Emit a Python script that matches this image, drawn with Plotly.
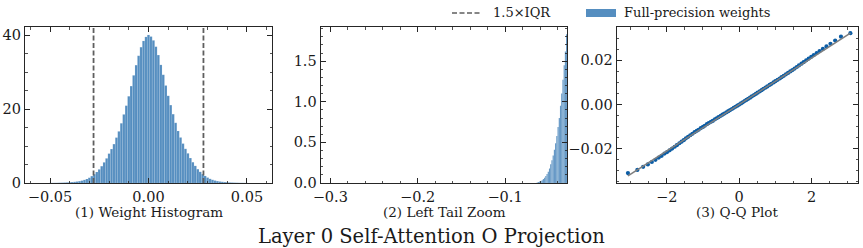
import plotly.graph_objects as go

# ---------------- data ----------------
hist_centers = [-0.05, -0.04875, -0.0475, -0.04625, -0.045, -0.04375, -0.0425, -0.04125, -0.04, -0.03875,
                -0.0375, -0.03625, -0.035, -0.03375, -0.0325, -0.03125, -0.03, -0.02875, -0.0275, -0.02625,
                -0.025, -0.02375, -0.0225, -0.02125, -0.02, -0.01875, -0.0175, -0.01625, -0.015, -0.01375,
                -0.0125, -0.01125, -0.01, -0.00875, -0.0075, -0.00625, -0.005, -0.00375, -0.0025, -0.00125,
                0.0,
                0.00125, 0.0025, 0.00375, 0.005, 0.00625, 0.0075, 0.00875, 0.01, 0.01125, 0.0125,
                0.01375, 0.015, 0.01625, 0.0175, 0.01875, 0.02, 0.02125, 0.0225, 0.02375, 0.025,
                0.02625, 0.0275, 0.02875, 0.03, 0.03125, 0.0325, 0.03375, 0.035, 0.03625, 0.0375,
                0.03875, 0.04, 0.04125, 0.0425, 0.04375, 0.045, 0.04625, 0.0475, 0.04875, 0.05]
hist_density = [0.02, 0.03, 0.04, 0.05, 0.07, 0.09, 0.12, 0.16, 0.20, 0.25,
                0.31, 0.40, 0.50, 0.64, 0.84, 1.08, 1.42, 1.86, 2.38, 2.97,
                3.68, 4.55, 5.58, 6.66, 7.95, 9.18, 10.52, 12.28, 13.96, 16.15,
                18.55, 20.92, 23.46, 26.21, 29.12, 31.88, 34.42, 36.74, 38.43, 39.52,
                40.05,
                39.61, 38.58, 36.87, 34.61, 31.95, 29.28, 26.37, 23.58, 21.07, 18.62,
                16.28, 14.07, 12.31, 10.66, 9.24, 8.02, 6.75, 5.62, 4.63, 3.74,
                3.02, 2.41, 1.91, 1.46, 1.12, 0.86, 0.66, 0.51, 0.40, 0.32,
                0.25, 0.20, 0.15, 0.12, 0.09, 0.07, 0.05, 0.04, 0.03, 0.02]
hist_bin_width = 0.00125

tail_centers = [-0.0631, -0.0617, -0.0603, -0.0589, -0.0575, -0.0561, -0.0547, -0.0533, -0.0519, -0.0505,
                -0.0491, -0.0477, -0.0463, -0.0449, -0.0435, -0.0421, -0.0407, -0.0393, -0.0379, -0.0365,
                -0.0351, -0.0337, -0.0323, -0.0309, -0.0295]
tail_density = [0.007, 0.011, 0.017, 0.025, 0.035, 0.048, 0.065, 0.085, 0.11, 0.14,
                0.18, 0.23, 0.28, 0.34, 0.41, 0.49, 0.58, 0.69, 0.80, 0.95,
                1.10, 1.27, 1.45, 1.62, 1.83]
tail_bin_width = 0.0014

iqr_bounds = [-0.0279, 0.0279]

qq_theoretical = [-3.07, -2.81, -2.65, -2.52, -2.41, -2.31, -2.22, -2.14, -2.06, -1.99,
                  -1.92, -1.85, -1.78, -1.72, -1.65, -1.59, -1.53, -1.47, -1.41, -1.35,
                  -1.29, -1.23, -1.17, -1.12, -1.06, -1.00, -0.95, -0.89, -0.84, -0.78,
                  -0.73, -0.67, -0.62, -0.57, -0.51, -0.46, -0.41, -0.35, -0.30, -0.25,
                  -0.20, -0.15, -0.10, -0.05, 0.00,
                  0.05, 0.10, 0.15, 0.20, 0.25, 0.30, 0.35, 0.41, 0.46, 0.51,
                  0.57, 0.62, 0.67, 0.73, 0.78, 0.84, 0.89, 0.95, 1.00, 1.06,
                  1.12, 1.17, 1.23, 1.29, 1.35, 1.41, 1.47, 1.53, 1.59, 1.65,
                  1.72, 1.78, 1.85, 1.92, 1.99, 2.06, 2.14, 2.22, 2.31, 2.41,
                  2.52, 2.65, 2.81, 3.07]
qq_sample = [-0.0310, -0.0296, -0.0282, -0.0271, -0.0260, -0.0250, -0.0240, -0.0232, -0.0222, -0.0215,
             -0.0207, -0.0199, -0.0191, -0.0184, -0.0175, -0.0168, -0.0161, -0.0153, -0.0146, -0.0139,
             -0.0132, -0.0125, -0.0119, -0.0114, -0.0107, -0.0101, -0.0096, -0.0089, -0.0084, -0.0078,
             -0.0074, -0.0067, -0.0062, -0.0057, -0.0051, -0.0046, -0.0041, -0.0035, -0.0030, -0.0025,
             -0.0020, -0.0015, -0.0010, -0.0005, 0.0000,
             0.0005, 0.0010, 0.0016, 0.0021, 0.0026, 0.0031, 0.0037, 0.0043, 0.0048, 0.0054,
             0.0060, 0.0065, 0.0071, 0.0077, 0.0082, 0.0089, 0.0094, 0.0100, 0.0106, 0.0112,
             0.0118, 0.0124, 0.0130, 0.0137, 0.0143, 0.0150, 0.0156, 0.0163, 0.0170, 0.0177,
             0.0185, 0.0192, 0.0200, 0.0208, 0.0216, 0.0224, 0.0233, 0.0242, 0.0252, 0.0263,
             0.0275, 0.0290, 0.0307, 0.0323]
qq_line_x = [-3.07, 3.07]
qq_line_y = [-0.0323, 0.0323]

panel_titles = ["(1) Weight Histogram", "(2) Left Tail Zoom", "(3) Q-Q Plot"]
main_title = "Layer 0 Self-Attention O Projection"
legend_labels = ["1.5\u00d7IQR", "Full-precision weights"]

# ---------------- styling ----------------
W, H = 863, 248
FONT = "DejaVu Serif"
BAR_COLOR = "#558ec0"
PT_COLOR = "#0c5da5"
DASH_COLOR = "#5f5f5f"


def px_x(p):
    return p / W


def px_y(p):
    return 1 - p / H


fig = go.Figure()

fig.add_trace(go.Bar(x=hist_centers, y=hist_density, width=hist_bin_width,
                     marker=dict(color=BAR_COLOR, line=dict(color="rgba(255,255,255,0.35)", width=0.3)),
                     xaxis="x", yaxis="y", showlegend=False))
fig.add_trace(go.Bar(x=tail_centers, y=tail_density, width=tail_bin_width,
                     marker=dict(color=BAR_COLOR, line=dict(color="rgba(255,255,255,0.35)", width=0.3)),
                     xaxis="x2", yaxis="y2", showlegend=False))
fig.add_trace(go.Scatter(x=qq_theoretical, y=qq_sample, mode="markers",
                         marker=dict(color=PT_COLOR, size=4.2, line=dict(width=0)),
                         xaxis="x3", yaxis="y3", showlegend=False))
fig.add_trace(go.Scatter(x=qq_line_x, y=qq_line_y, mode="lines",
                         line=dict(color="#7f7f7f", width=1.6),
                         xaxis="x3", yaxis="y3", showlegend=False))

for b in iqr_bounds:
    fig.add_shape(type="line", xref="x", yref="y domain", x0=b, x1=b, y0=0, y1=1,
                  line=dict(color=DASH_COLOR, width=1.8, dash="5px,2.5px"))

axis_common = dict(showline=True, linecolor="#262626", linewidth=1.1, mirror="allticks",
                   ticks="inside", ticklen=5, tickwidth=1, tickcolor="#262626",
                   showgrid=False, zeroline=False, automargin=False,
                   tickfont=dict(family=FONT, size=14.5, color="#1a1a1a"))


def ax(**kw):
    d = dict(axis_common)
    d.update(kw)
    return d


ytop, ybot = px_y(27), px_y(183)
dom1 = [px_x(25), px_x(272)]
dom2 = [px_x(320.7), px_x(567.3)]
dom3 = [px_x(616.7), px_x(858)]

minor_style = dict(ticks="inside", ticklen=2.5, tickwidth=0.8, tickcolor="#262626", showgrid=False)

fig.update_layout(
    width=W, height=H, margin=dict(l=0, r=0, t=0, b=0, autoexpand=False),
    paper_bgcolor="white", plot_bgcolor="white", bargap=0,
    showlegend=False,
    font=dict(family=FONT, color="#1a1a1a"),
    xaxis=ax(domain=dom1, anchor="y", range=[-0.0627, 0.0627], tickvals=[-0.05, 0, 0.05],
             tickformat=".2f", minor=dict(minor_style, dtick=0.01, tick0=0)),
    yaxis=ax(domain=[ybot, ytop], anchor="x", range=[0, 42.2], tickvals=[0, 20, 40],
             minor=dict(minor_style, dtick=5, tick0=0)),
    xaxis2=ax(domain=dom2, anchor="y2", range=[-0.311, -0.0288], tickvals=[-0.3, -0.2, -0.1],
              tickformat=".1f", minor=dict(minor_style, dtick=0.02, tick0=0)),
    yaxis2=ax(domain=[ybot, ytop], anchor="x2", range=[0, 1.92], tickvals=[0, 0.5, 1.0, 1.5],
              tickformat=".1f", minor=dict(minor_style, dtick=0.1, tick0=0)),
    xaxis3=ax(domain=dom3, anchor="y3", range=[-3.38, 3.28], tickvals=[-2, 0, 2],
              minor=dict(minor_style, dtick=0.5, tick0=0)),
    yaxis3=ax(domain=[ybot, ytop], anchor="x3", range=[-0.0355, 0.0351], tickvals=[-0.02, 0, 0.02],
              tickformat=".2f", minor=dict(minor_style, dtick=0.005, tick0=0)),
)

# panel captions
for dom, t in zip([dom1, dom2, dom3], panel_titles):
    fig.add_annotation(text=t, xref="paper", yref="paper", x=(dom[0] + dom[1]) / 2, y=px_y(212),
                       showarrow=False, xanchor="center", yanchor="middle",
                       font=dict(family=FONT, size=13.5, color="#1a1a1a"))

# main title
fig.add_annotation(text=main_title, xref="paper", yref="paper", x=0.5, y=px_y(236),
                   showarrow=False, xanchor="center", yanchor="middle",
                   font=dict(family=FONT, size=19.5, color="#1a1a1a"))

# manual legend
fig.add_shape(type="line", xref="paper", yref="paper", x0=px_x(452), x1=px_x(482),
              y0=px_y(13), y1=px_y(13), line=dict(color=DASH_COLOR, width=1.6, dash="5px,2.5px"))
fig.add_annotation(text=legend_labels[0], xref="paper", yref="paper", x=px_x(491), y=px_y(13),
                   showarrow=False, xanchor="left", yanchor="middle",
                   font=dict(family=FONT, size=13, color="#1a1a1a"))
fig.add_shape(type="rect", xref="paper", yref="paper", x0=px_x(586), x1=px_x(616),
              y0=px_y(17), y1=px_y(9), line=dict(width=0), fillcolor=BAR_COLOR)
fig.add_annotation(text=legend_labels[1], xref="paper", yref="paper", x=px_x(622), y=px_y(13),
                   showarrow=False, xanchor="left", yanchor="middle",
                   font=dict(family=FONT, size=13, color="#1a1a1a"))

fig.write_html("out.html",
               config={"displayModeBar": False, "staticPlot": True},
               post_script="document.body.style.margin='0';document.body.style.padding='0';"
                           "document.body.style.overflow='hidden';")
